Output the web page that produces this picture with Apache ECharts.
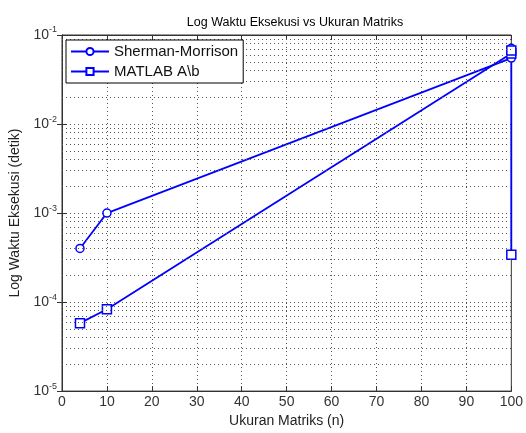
<!DOCTYPE html>
<html>
<head>
<meta charset="utf-8">
<script src="https://cdn.jsdelivr.net/npm/echarts@6/dist/echarts.min.js"></script>
<style>
  html, body { margin: 0; padding: 0; background: #fff; }
  #chart { width: 526px; height: 433px; }
</style>
</head>
<body>
<div id="chart"></div>
<script>
// data
var shermanX = [4, 10, 100, 100];
var shermanY = [0.0004, 0.001, 0.055, 0.071];
var matlabX = [4, 10, 100, 100, 100];
var matlabY = [0.000058, 0.000083, 0.062, 0.067, 0.00034];
var decades = [0.00001, 0.0001, 0.001, 0.01];
var minorSteps = [2, 3, 4, 5, 6, 7, 8, 9];

function pairs(xs, ys) {
    var out = [];
    for (var i = 0; i < xs.length; i++) out.push([xs[i], ys[i]]);
    return out;
}

// minor grid lines (2..9 in each decade), like matlab
var minorLines = [];
decades.forEach(function (d) {
    minorSteps.forEach(function (m) {
        minorLines.push({ yAxis: d * m });
    });
});

var blue = '#0000ff';
var font = 'Liberation Sans, Arial, sans-serif';
var dots = { color: '#555', type: [1, 3], width: 1 };

var chart = echarts.init(document.getElementById('chart'));
var option = {
    backgroundColor: '#fff',
    animation: false,
    title: {
        text: 'Log Waktu Eksekusi vs Ukuran Matriks',
        left: 290,
        textAlign: 'center',
        top: 11,
        textStyle: { fontSize: 12.5, fontWeight: 'normal', color: '#000', fontFamily: font }
    },
    legend: {
        data: ['Sherman-Morrison', 'MATLAB A\\b'],
        orient: 'vertical',
        left: 66,
        top: 40,
        z: 10,
        itemWidth: 38,
        itemHeight: 9,
        itemGap: 5,
        padding: [4, 5, 4, 4],
        backgroundColor: '#fff',
        borderColor: '#000',
        borderWidth: 1,
        borderRadius: 0,
        textStyle: { fontSize: 15, color: '#111', fontFamily: font }
    },
    grid: {
        left: 62,
        right: 11,
        top: 35,
        bottom: 40,
        show: true,
        borderColor: '#333',
        borderWidth: 1,
        backgroundColor: '#fff'
    },
    xAxis: [{
        type: 'value',
        min: 0,
        max: 100,
        interval: 10,
        name: 'Ukuran Matriks (n)',
        nameLocation: 'middle',
        nameGap: 19,
        nameTextStyle: { fontSize: 14, color: '#222', fontFamily: font },
        axisLine: { lineStyle: { color: '#333' } },
        axisTick: { inside: true, length: 5, lineStyle: { color: '#333' } },
        axisLabel: { fontSize: 14, color: '#333', fontFamily: font, margin: 4 },
        splitLine: { show: true, lineStyle: dots }
    }, {
        type: 'value',
        position: 'top',
        min: 0,
        max: 100,
        interval: 10,
        axisLine: { lineStyle: { color: '#333' } },
        axisTick: { inside: true, length: 5, lineStyle: { color: '#333' } },
        axisLabel: { show: false },
        splitLine: { show: false }
    }],
    yAxis: [{
        type: 'log',
        logBase: 10,
        min: 0.00001,
        max: 0.1,
        name: 'Log Waktu Eksekusi (detik)',
        nameLocation: 'middle',
        nameGap: 27,
        nameTextStyle: { fontSize: 14, color: '#222', fontFamily: font },
        axisLine: { lineStyle: { color: '#333' } },
        axisTick: { inside: true, length: 5, lineStyle: { color: '#333' } },
        axisLabel: {
            margin: 5,
            formatter: function (v) {
                return '10{sup|' + Math.round(Math.log10(v)) + '}';
            },
            fontSize: 14,
            color: '#333',
            fontFamily: font,
            rich: {
                sup: { fontSize: 9, verticalAlign: 'top', padding: [0, 0, 10, 0], color: '#333', fontFamily: font }
            }
        },
        splitLine: { show: true, lineStyle: dots }
    }, {
        type: 'log',
        logBase: 10,
        position: 'right',
        min: 0.00001,
        max: 0.1,
        axisLine: { lineStyle: { color: '#333' } },
        axisTick: { inside: true, length: 5, lineStyle: { color: '#333' } },
        axisLabel: { show: false },
        splitLine: { show: false }
    }],
    series: [{
        name: 'minor',
        type: 'line',
        data: [[0, 0.00001]],
        showSymbol: false,
        lineStyle: { opacity: 0 },
        silent: true,
        z: 1,
        markLine: {
            silent: true,
            symbol: 'none',
            precision: 10,
            animation: false,
            label: { show: false },
            lineStyle: dots,
            emphasis: { disabled: true },
            data: minorLines
        }
    }, {
        name: 'Sherman-Morrison',
        type: 'line',
        data: pairs(shermanX, shermanY),
        symbol: 'circle',
        symbolSize: 8,
        showAllSymbol: true,
        z: 3,
        itemStyle: { color: '#fff', borderColor: blue, borderWidth: 1.5 },
        lineStyle: { color: blue, width: 1.8 }
    }, {
        name: 'MATLAB A\\b',
        type: 'line',
        data: pairs(matlabX, matlabY),
        symbol: 'rect',
        symbolSize: 9,
        showAllSymbol: true,
        z: 3,
        itemStyle: { color: '#fff', borderColor: blue, borderWidth: 1.5 },
        lineStyle: { color: blue, width: 1.8 }
    }]
};
chart.setOption(option);
</script>
</body>
</html>
